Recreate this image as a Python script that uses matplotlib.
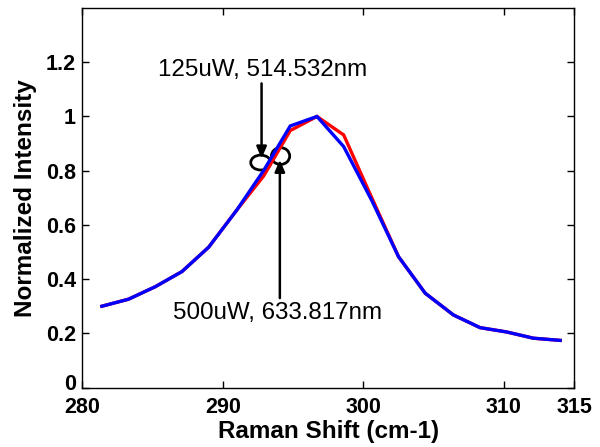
import matplotlib
matplotlib.use("Agg")  # headless backend
import matplotlib.pyplot as plt
import matplotlib.transforms as mtransforms
from matplotlib.patches import Ellipse

plt.rcParams["font.family"] = ["Liberation Sans", "DejaVu Sans"]

# Raman shift (cm-1) sample positions
shift = [281.4, 283.3, 285.2, 287.1, 289.0, 291.0, 292.9, 294.8, 296.7,
         298.6, 300.6, 302.5, 304.4, 306.4, 308.3, 310.2, 312.1, 314.0]
# 500uW, 633.817nm (blue)
blue = [0.300, 0.326, 0.372, 0.428, 0.518, 0.655, 0.800, 0.965, 1.000,
        0.889, 0.690, 0.483, 0.348, 0.268, 0.221, 0.205, 0.182, 0.174]
# 125uW, 514.532nm (red), mostly hidden under the blue trace
red = [0.300, 0.326, 0.372, 0.428, 0.518, 0.655, 0.780, 0.948, 1.000,
       0.932, 0.700, 0.483, 0.348, 0.268, 0.221, 0.205, 0.182, 0.174]

x_ticks = [280, 290, 300, 310, 315]
y_ticks = [0, 0.2, 0.4, 0.6, 0.8, 1, 1.2]
y_tick_labels = ["0", "0.2", "0.4", "0.6", "0.8", "1", "1.2"]

fig = plt.figure(figsize=(6, 4.47), dpi=100)
ax = fig.add_axes([0.137, 0.133, 0.82, 0.849])

ax.plot(shift, red, color=(1, 0, 0), lw=2.4, solid_joinstyle="miter")
ax.plot(shift, blue, color=(0, 0, 1), lw=2.4, solid_joinstyle="miter")

ax.set_xlim(280, 315)
ax.set_ylim(0, 1.4)
ax.set_xticks(x_ticks)
ax.set_yticks(y_ticks)
ax.set_yticklabels(y_tick_labels)
ax.tick_params(direction="in", length=5, width=1, top=True, right=True,
               labelsize=15.5)
ax.tick_params(axis="x", pad=7)
ax.tick_params(axis="y", pad=4.5)
for lbl in ax.get_xticklabels() + ax.get_yticklabels():
    lbl.set_fontweight("bold")
# the "0" sits a little above the axis line, clear of "280"
zero = ax.get_yticklabels()[0]
zero.set_transform(zero.get_transform() + mtransforms.ScaledTranslation(0, 4 / 72, fig.dpi_scale_trans))
for sp in ax.spines.values():
    sp.set_linewidth(1)

ax.set_xlabel("Raman Shift (cm-1)", fontsize=17.5, fontweight="bold", labelpad=1)
ax.set_ylabel("Normalized Intensity", fontsize=17.5, fontweight="bold", labelpad=6)

# circled points and arrows
ax.add_patch(Ellipse((292.70, 0.830), 1.42, 0.055, fill=False, lw=2, ec="black"))
ax.add_patch(Ellipse((294.11, 0.854), 1.30, 0.062, fill=False, lw=2, ec="black"))

arrow = dict(arrowstyle="-|>,head_length=0.7,head_width=0.3", color="black",
             lw=1.8, shrinkA=0, shrinkB=0)
ax.annotate("", xy=(292.76, 0.845), xytext=(292.76, 1.122), arrowprops=arrow)
ax.annotate("", xy=(294.06, 0.84), xytext=(294.06, 0.330), arrowprops=arrow)

ax.text(292.8, 1.172, "125uW, 514.532nm", fontsize=17.4, ha="center", va="center")
ax.text(293.9, 0.274, "500uW, 633.817nm", fontsize=17.4, ha="center", va="center")

fig.savefig("out.png", dpi=100)
